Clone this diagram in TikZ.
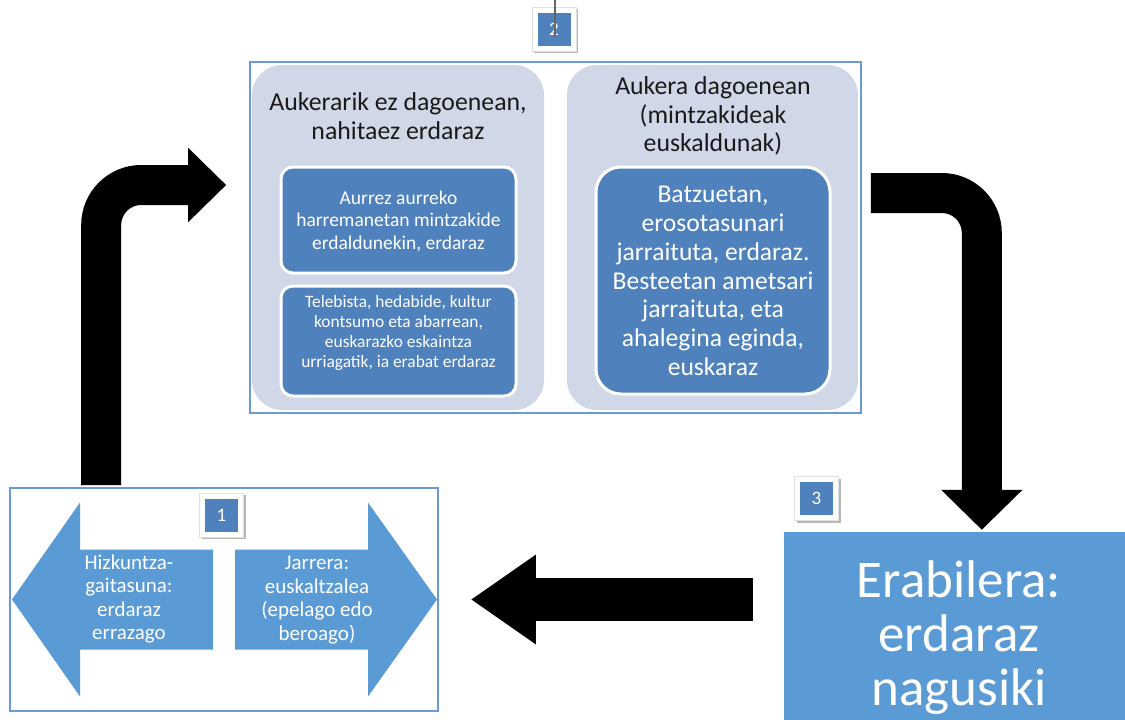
\documentclass[tikz,border=0pt]{standalone}
\usepackage{fontspec}
\setmainfont{Carlito}
\usetikzlibrary{arrows.meta}
\definecolor{panel}{HTML}{D0D8E8}
\definecolor{darkblue}{HTML}{4F81BD}
\definecolor{midblue}{HTML}{5B9BD5}
\definecolor{frameblue}{HTML}{6C9AD6}
\definecolor{ink}{HTML}{1A1A1A}

\begin{document}
\begin{tikzpicture}[x=1pt,y=-1pt,
  outline/.style={draw=frameblue,line width=1.6pt,inner sep=0pt},
  panelbox/.style={fill=panel,rounded corners=30pt,inner sep=0pt},
  itembox/.style={fill=darkblue,draw=white,line width=3pt,inner sep=0pt},
  title/.style={text=ink,align=center,inner sep=0pt,font=\fontsize{25.8}{28.5}\selectfont},
  whitetext/.style={text=white,align=center,inner sep=0pt},
  flow/.style={draw=black,line width=40pt,rounded corners=40pt},
  badgeshadow/.style={fill=black!28,minimum size=44pt,inner sep=0pt},
  badgeframe/.style={fill=white,draw=black!12,line width=1pt,minimum size=44pt,inner sep=0pt},
  badge/.style={fill=darkblue,text=white,minimum size=33pt,inner sep=0pt,font=\fontsize{19}{19}\selectfont}]

\useasboundingbox (0,0) rectangle (1125,720);

% ---------- stage 2: two situations ----------
\node[outline,minimum width=611pt,minimum height=351pt] (frame2) at (555.5,237.5) {};
\node[panelbox,minimum width=292pt,minimum height=345pt] (panelL) at (398,237.5) {};
\node[panelbox,minimum width=291pt,minimum height=345pt] (panelR) at (712.5,237.5) {};

\node[title] (titleL) at (398,116) {Aukerarik ez dagoenean,\\nahitaez erdaraz};
\node[title] (titleR) at (713,116) {Aukera dagoenean\\(mintzakideak\\euskaldunak)};

\node[itembox,rounded corners=12pt,minimum width=235pt,minimum height=106pt] (itemL1) at (398.5,220) {};
\node[whitetext,font=\fontsize{19.5}{22.5}\selectfont] (textL1) at (398.5,221)
  {Aurrez aurreko\\harremanetan mintzakide\\erdaldunekin, erdaraz};

\node[itembox,rounded corners=12pt,minimum width=235pt,minimum height=110pt] (itemL2) at (398.5,341) {};
\node[whitetext,font=\fontsize{17.4}{19.8}\selectfont] (textL2) at (398.5,333)
  {Telebista, hedabide, kultur\\kontsumo eta abarrean,\\euskarazko eskaintza\\urriagatik, ia erabat erdaraz};

\node[itembox,rounded corners=25pt,minimum width=234pt,minimum height=227pt] (itemR) at (713,280.5) {};
\node[whitetext,font=\fontsize{25.6}{28.8}\selectfont] (textR) at (713,281)
  {Batzuetan,\\erosotasunari\\jarraituta, erdaraz.\\Besteetan ametsari\\jarraituta, eta\\ahalegina eginda,\\euskaraz};

% ---------- stage 1: competence and attitude ----------
\node[outline,minimum width=428pt,minimum height=223pt] (frame1) at (224,599.5) {};
\fill[midblue] (12,599.5) -- (80,502.5) -- (80,549.5) -- (213,549.5) -- (213,649.5)
  -- (80,649.5) -- (80,696.5) -- cycle;
\fill[midblue] (437,599.5) -- (368,502.5) -- (368,549.5) -- (235,549.5) -- (235,649.5)
  -- (368,649.5) -- (368,696.5) -- cycle;
\node[whitetext,font=\fontsize{21}{23.5}\selectfont] (ability) at (129,599)
  {Hizkuntza-\\gaitasuna:\\erdaraz\\errazago};
\node[whitetext,font=\fontsize{21}{23.5}\selectfont] (attitude) at (317,600)
  {Jarrera:\\euskaltzalea\\(epelago edo\\beroago)};

% ---------- stage 3: usage ----------
\node[fill=midblue,inner sep=0pt,minimum width=341pt,minimum height=188pt] (box3) at (954.5,626) {};
\node[whitetext,font=\fontsize{53}{54}\selectfont] (usage) at (959,638)
  {Erabilera:\\erdaraz\\nagusiki};

% ---------- step badges ----------
\node[badgeshadow] (b1s) at (223.5,517) {};
\node[badgeframe] (b1f) at (221.5,515) {};
\node[badge] (b1) at (221.5,515) {1};

\node[badgeshadow] (b2s) at (556,31) {};
\node[badgeframe] (b2f) at (554,29) {};
\node[badge] (b2) at (554,29) {2};
\coordinate (b2top) at (555,0);
\draw[black!60,line width=1.5pt] (b2top) -- ([xshift=1pt,yshift=-8pt]b2.center);

\node[badgeshadow] (b3s) at (818.5,500.5) {};
\node[badgeframe] (b3f) at (816.5,498.5) {};
\node[badge] (b3) at (816.5,498.5) {3};

% ---------- cycle arrows ----------
\draw[flow,-{Triangle[length=38pt,width=72pt]}]
  ([xshift=92pt,yshift=2pt]frame1.north west) |- ([xshift=-23pt,yshift=52.5pt]frame2.west);
\draw[flow,-{Triangle[length=40pt,width=79pt]}]
  ([xshift=9pt,yshift=44.5pt]frame2.east) -| ([xshift=198pt,yshift=2pt]box3.north west);
\draw[draw=black,line width=43pt,-{Triangle[length=65pt,width=85pt]}]
  ([xshift=-31pt,yshift=26.5pt]box3.west) -- ([xshift=32pt]frame1.east);

\end{tikzpicture}
\end{document}
